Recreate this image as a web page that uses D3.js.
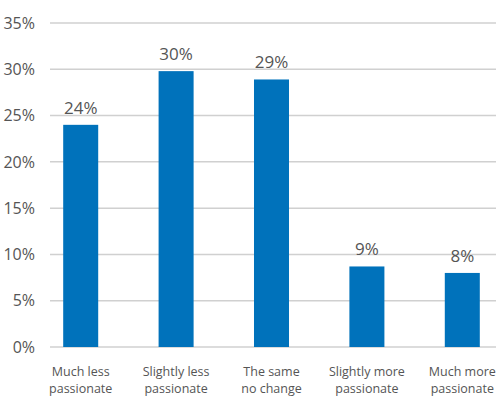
<!DOCTYPE html>
<html><head><meta charset="utf-8">
<script src="https://cdn.jsdelivr.net/npm/d3@7"></script>
<style>body{margin:0;background:#fff}svg{display:block}text{font-family:"Open Sans",Lato,sans-serif;fill:#555}</style>
</head><body>
<script>
const categories = [["Much less","passionate"],["Slightly less","passionate"],["The same","no change"],["Slightly more","passionate"],["Much more","passionate"]];
const values = [24, 29.8, 28.9, 8.7, 8.0];
const valueLabels = ["24%","30%","29%","9%","8%"];
const yTicks = [0,5,10,15,20,25,30,35];

const W=500,H=397;
const svg=d3.select("body").append("svg").attr("width",W).attr("height",H);
const y=d3.scaleLinear().domain([0,35]).range([347,23]);
const x=d3.scaleBand().domain(d3.range(categories.length)).range([33,510]).paddingInner(0.633).paddingOuter(0.3165);

svg.append("g").selectAll("line").data(yTicks).join("line")
  .attr("x1",50).attr("x2",496).attr("y1",d=>y(d)).attr("y2",d=>y(d))
  .attr("stroke","#d0d0d0").attr("stroke-width",1.5);

svg.append("g").selectAll("text").data(yTicks).join("text")
  .attr("x",35).attr("y",d=>y(d)).attr("dy","0.36em").attr("text-anchor","end")
  .attr("font-size",16).text(d=>d+"%");

svg.append("g").selectAll("rect").data(values).join("rect")
  .attr("x",(d,i)=>x(i)).attr("width",x.bandwidth())
  .attr("y",d=>y(d)).attr("height",d=>y(0)-y(d)).attr("fill","#0072BB");

svg.append("g").selectAll("text").data(values).join("text")
  .attr("x",(d,i)=>x(i)+x.bandwidth()/2).attr("y",d=>y(d)-11)
  .attr("text-anchor","middle").attr("font-size",17).text((d,i)=>valueLabels[i]);

categories.forEach((d,i)=>{
  d.forEach((line,j)=>svg.append("text")
    .attr("x",x(i)+x.bandwidth()/2).attr("y",376+j*17)
    .attr("text-anchor","middle").attr("font-size",12.5).text(line));
});
</script>
</body></html>
